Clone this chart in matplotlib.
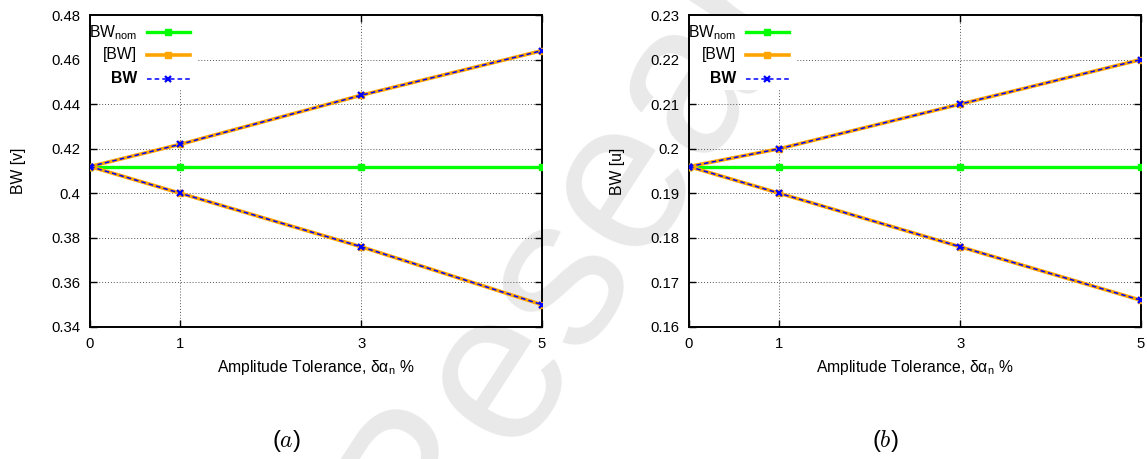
import matplotlib
matplotlib.use('Agg')
import matplotlib.pyplot as plt
from matplotlib.lines import Line2D
from matplotlib.patches import Rectangle

plt.rcParams['font.family'] = ['Liberation Sans', 'DejaVu Sans']
plt.rcParams['mathtext.fontset'] = 'cm'
plt.rcParams['mathtext.default'] = 'regular'

# tolerance steps (%)
tol = [0, 1, 3, 5]

# panel (a): bandwidth in v
bw_nom_v = [0.412, 0.412, 0.412, 0.412]
bw_up_v = [0.412, 0.422, 0.444, 0.464]
bw_lo_v = [0.412, 0.400, 0.376, 0.350]

# panel (b): bandwidth in u
bw_nom_u = [0.196, 0.196, 0.196, 0.196]
bw_up_u = [0.196, 0.200, 0.210, 0.220]
bw_lo_u = [0.196, 0.190, 0.178, 0.166]

xticks = [0, 1, 3, 5]
yticks_v = [0.34, 0.36, 0.38, 0.40, 0.42, 0.44, 0.46, 0.48]
ytick_labels_v = ['0.34', '0.36', '0.38', '0.4', '0.42', '0.44', '0.46', '0.48']
yticks_u = [0.16, 0.17, 0.18, 0.19, 0.20, 0.21, 0.22, 0.23]
ytick_labels_u = ['0.16', '0.17', '0.18', '0.19', '0.2', '0.21', '0.22', '0.23']

GREEN = '#00ff00'
ORANGE = '#ffa500'
BLUE = '#0000ff'

nom_style = dict(color=GREEN, lw=2.4, marker='s', ms=5, zorder=3)
env_style = dict(color=ORANGE, lw=2.6, marker='s', ms=4, zorder=4)
bw_style = dict(color=BLUE, lw=1.1, ls=(0, (3, 2)), marker='x', ms=4.5, mew=1.6, zorder=5)


def draw_panel(ax, nom, up, lo, yticks, ylabels, ylabel, tag):
    ax.set_facecolor('none')
    ax.plot(tol, nom, **nom_style)
    ax.plot(tol, up, **env_style)
    ax.plot(tol, lo, **env_style)
    ax.plot(tol, up, **bw_style)
    ax.plot(tol, lo, **bw_style)

    ax.set_xlim(0, 5)
    ax.set_ylim(yticks[0], yticks[-1])
    ax.set_xticks(xticks)
    ax.set_xticklabels([str(t) for t in xticks])
    ax.set_yticks(yticks)
    ax.set_yticklabels(ylabels)
    ax.tick_params(direction='in', length=5, width=1, top=True, right=True,
                   labelsize=10.7, pad=7, colors='black')
    ax.grid(True, color='#555555', lw=0.7, ls=(0, (1, 2)))
    ax.set_axisbelow(True)
    for sp in ax.spines.values():
        sp.set_linewidth(1.4)

    ax.set_xlabel('Amplitude Tolerance, δα$_{n}$ %', fontsize=11.3, labelpad=5)
    ax.set_ylabel(ylabel, fontsize=11.3, labelpad=18)

    # key box in the upper left corner
    ax.add_patch(Rectangle((0, 0.76), 0.24, 0.24, transform=ax.transAxes,
                           facecolor='white', edgecolor='none', zorder=1))
    rows = [('BW$_{nom}$', nom_style, 'normal', 0.945),
            ('[BW]', env_style, 'normal', 0.872),
            ('BW', bw_style, 'bold', 0.795)]
    for label, style, weight, yy in rows:
        ax.text(0.104, yy, label, transform=ax.transAxes, ha='right', va='center',
                fontsize=11.3, fontweight=weight, zorder=6)
        st = dict(style)
        st.pop('zorder')
        ax.add_line(Line2D([0.126, 0.221], [yy, yy], transform=ax.transAxes,
                           markevery=[], zorder=6, **st))
        ax.add_line(Line2D([0.1735], [yy], transform=ax.transAxes, zorder=6,
                           **{k: v for k, v in st.items() if k not in ('ls',)}))

    ax.text(0.435, -0.365, tag, transform=ax.transAxes, ha='center', va='center',
            fontsize=17)


fig = plt.figure(figsize=(11.47, 4.59), dpi=100)
fig.text(0.548, 0.651, 'Research', rotation=57, ha='center', va='center',
         fontsize=155, color='#e9e9e9', zorder=-5)

ax1 = fig.add_axes([0.0785, 0.2876, 0.394, 0.6797])
ax2 = fig.add_axes([0.6007, 0.2876, 0.394, 0.6797])

draw_panel(ax1, bw_nom_v, bw_up_v, bw_lo_v, yticks_v, ytick_labels_v, 'BW [v]', r'$(\mathit{a})$')
draw_panel(ax2, bw_nom_u, bw_up_u, bw_lo_u, yticks_u, ytick_labels_u, 'BW [u]', r'$(\mathit{b})$')

fig.savefig('out.png', dpi=100)
